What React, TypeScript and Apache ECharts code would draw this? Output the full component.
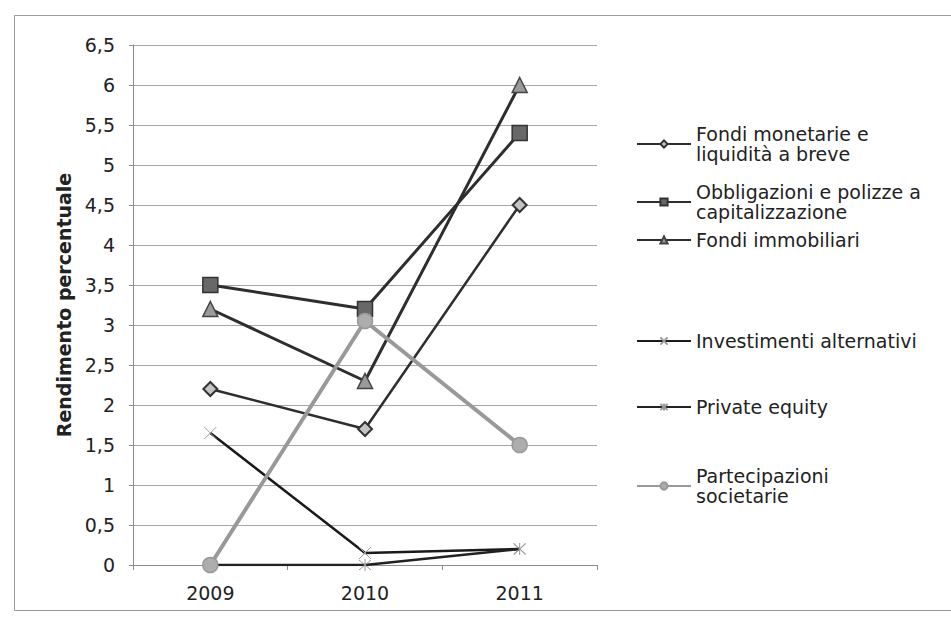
import React, { useEffect, useRef } from 'react';
import * as echarts from 'echarts';

// Categories and returns (percent) per asset class
const years = ['2009', '2010', '2011'];
const fondiMonetarie = [2.2, 1.7, 4.5];
const obbligazioni = [3.5, 3.2, 5.4];
const fondiImmobiliari = [3.2, 2.3, 6.0];
const investimentiAlternativi = [1.65, 0.15, 0.2];
const privateEquity = [0, 0, 0.2];
const partecipazioni = [0, 3.05, 1.5];

const seriesNames = [
  'Fondi monetarie e liquidità a breve',
  'Obbligazioni e polizze a capitalizzazione',
  'Fondi immobiliari',
  'Investimenti alternativi',
  'Private equity',
  'Partecipazioni societarie',
];

// How each legend label wraps
const legendLabels = [
  ['Fondi monetarie e', 'liquidità a breve'],
  ['Obbligazioni e polizze a', 'capitalizzazione'],
  ['Fondi immobiliari'],
  ['Investimenti alternativi'],
  ['Private equity'],
  ['Partecipazioni', 'societarie'],
];

// Vertical centre of the first text line of each legend entry
const legendCenters = [134, 192, 240, 341, 407, 476];

const FONT = 'DejaVu Sans';
const LINE_H = 20;

const crossPath = 'path://M0,0L10,10M10,0L0,10';
const starPath = 'path://M0,0L10,10M10,0L0,10M5,-1L5,11';

export default function App() {
  const ref = useRef<HTMLDivElement>(null);

  useEffect(() => {
    if (!ref.current) return;
    const chart = echarts.init(ref.current, null, { renderer: 'svg' });

    const values = [
      fondiMonetarie,
      obbligazioni,
      fondiImmobiliari,
      investimentiAlternativi,
      privateEquity,
      partecipazioni,
    ];

    const looks = [
      { symbol: 'diamond', size: 14, line: '#2e2e2e', lw: 2.5, fill: '#c4c4c4', border: '#333', bw: 2 },
      { symbol: 'rect', size: 15, line: '#2e2e2e', lw: 3, fill: '#686868', border: '#333', bw: 1.5 },
      { symbol: 'triangle', size: 15, line: '#2e2e2e', lw: 3, fill: '#9a9a9a', border: '#444', bw: 1.5 },
      { symbol: crossPath, size: 12, line: '#1a1a1a', lw: 2.5, fill: '#888', border: '#9a9a9a', bw: 1 },
      { symbol: starPath, size: 12, line: '#222', lw: 2.5, fill: '#888', border: '#9a9a9a', bw: 1 },
      { symbol: 'circle', size: 15, line: '#999', lw: 4, fill: '#adadad', border: '#999', bw: 1.5 },
    ];

    const series = seriesNames.map((name, i) => ({
      name,
      type: 'line',
      data: values[i],
      symbol: looks[i].symbol,
      symbolSize: looks[i].size,
      showSymbol: true,
      lineStyle: { color: looks[i].line, width: looks[i].lw },
      itemStyle: {
        color: looks[i].fill,
        borderColor: looks[i].border,
        borderWidth: looks[i].bw,
      },
      emphasis: { disabled: true },
      z: 2 + i,
    }));

    const legends = seriesNames.map((name, i) => {
      const twoLines = legendLabels[i].length > 1;
      const c = legendCenters[i];
      return {
        data: [name],
        left: 636,
        top: twoLines ? c - LINE_H : c - LINE_H / 2,
        orient: 'vertical',
        padding: 0,
        itemWidth: 54,
        itemHeight: 9,
        itemGap: 0,
        selectedMode: false,
        formatter: () => legendLabels[i].join('\n'),
        textStyle: {
          fontFamily: FONT,
          fontSize: 19,
          color: '#222',
          lineHeight: LINE_H,
          padding: twoLines ? [LINE_H, 0, 0, 0] : 0,
        },
      };
    });

    chart.setOption({
      animation: false,
      textStyle: { fontFamily: FONT },
      grid: { left: 133, right: 354, top: 45, bottom: 52 },
      xAxis: {
        type: 'category',
        data: years,
        boundaryGap: true,
        axisLine: { lineStyle: { color: '#8c8c8c', width: 1 } },
        axisTick: { show: true, length: 5, lineStyle: { color: '#8c8c8c' } },
        axisLabel: { color: '#222', fontSize: 19, margin: 18, fontFamily: FONT },
        splitLine: { show: false },
      },
      yAxis: {
        type: 'value',
        min: 0,
        max: 6.5,
        interval: 0.5,
        name: 'Rendimento percentuale',
        nameLocation: 'middle',
        nameRotate: 90,
        nameGap: 60,
        nameTextStyle: { fontWeight: 'bold', fontSize: 19, color: '#222', fontFamily: FONT },
        axisLine: { show: true, lineStyle: { color: '#8c8c8c', width: 1 } },
        axisTick: { show: true, length: 4, lineStyle: { color: '#8c8c8c' } },
        axisLabel: {
          color: '#222',
          fontSize: 19,
          margin: 18,
          fontFamily: FONT,
          formatter: (v: number) => String(v).replace('.', ','),
        },
        splitLine: { show: true, lineStyle: { color: '#a6a6a6', width: 1 } },
      },
      legend: legends,
      series,
      graphic: [
        {
          type: 'rect',
          shape: { x: 14.5, y: 15.5, width: 960, height: 595 },
          style: { fill: 'none', stroke: '#9a9a9a', lineWidth: 1 },
          silent: true,
          z: 0,
        },
      ],
    });

    return () => chart.dispose();
  }, []);

  return (
    <div
      ref={ref}
      style={{ position: 'fixed', left: 0, top: 0, width: 951, height: 617, background: '#fff' }}
    />
  );
}
